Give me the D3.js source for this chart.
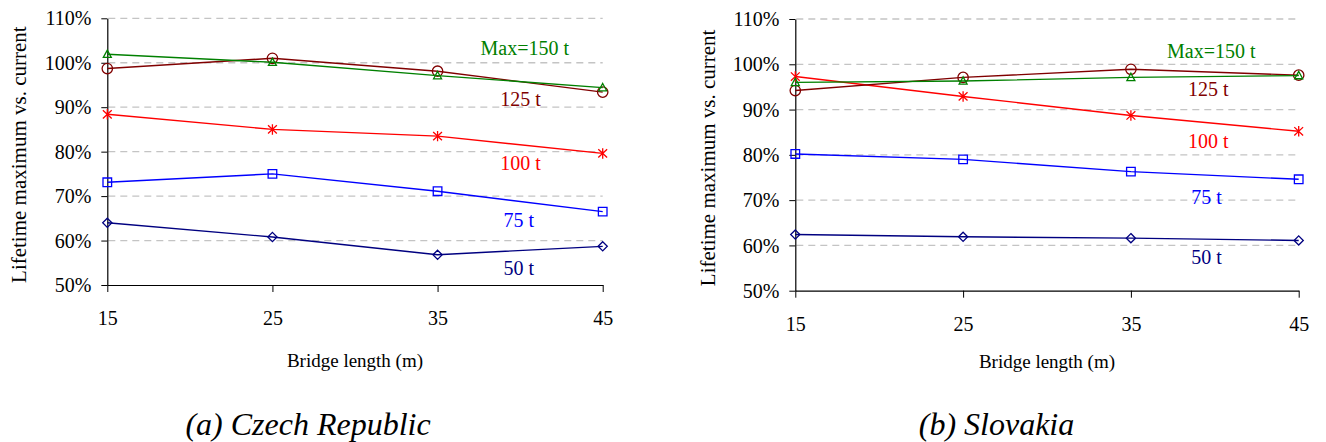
<!DOCTYPE html>
<html>
<head>
<meta charset="utf-8">
<script src="https://cdn.jsdelivr.net/npm/d3@7"></script>
<style>
  html, body { margin: 0; padding: 0; background: #fff; }
  svg { display: block; }
</style>
</head>
<body>
<svg id="chart" width="1326" height="442" font-family="Liberation Serif"></svg>
<script>
// Bridge lengths (m) on the x axis
const lengths = [15, 25, 35, 45];
const yTicks = [50, 60, 70, 80, 90, 100, 110];

// Series names (gross vehicle weight limits)
const seriesNames = ["50 t", "75 t", "100 t", "125 t", "Max=150 t"];

// Czech Republic: lifetime maximum vs. current (%)
const czech50  = [64.0, 60.8, 56.8, 58.7];
const czech75  = [73.1, 75.0, 71.1, 66.5];
const czech100 = [88.4, 85.0, 83.5, 79.6];
const czech125 = [98.7, 101.0, 98.1, 93.4];
const czech150 = [101.9, 100.1, 97.1, 94.4];

// Slovakia: lifetime maximum vs. current (%)
const slovak50  = [62.4, 61.9, 61.6, 61.1];
const slovak75  = [80.2, 79.0, 76.3, 74.6];
const slovak100 = [97.3, 92.9, 88.7, 85.2];
const slovak125 = [94.2, 97.1, 98.9, 97.6];
const slovak150 = [96.0, 96.3, 97.1, 97.5];

const seriesColors = ["#000080", "#0000ff", "#ff0000", "#800000", "#008000"];
const FONT = "Liberation Serif";

// Marker shapes as d3 symbol types (size = half-extent in px)
const symDiamond = { draw(c, s) { c.moveTo(0, -s); c.lineTo(s, 0); c.lineTo(0, s); c.lineTo(-s, 0); c.closePath(); } };
const symSquare = { draw(c, s) { c.rect(-s, -s, 2 * s, 2 * s); } };
const symStar = { draw(c, s) {
  c.moveTo(0, -s); c.lineTo(0, s);
  const a = s * 0.85, b = s * 0.8;
  c.moveTo(-a, -b); c.lineTo(a, b);
  c.moveTo(-a, b); c.lineTo(a, -b);
} };
const symCircle = { draw(c, s) { c.moveTo(s, 0); c.arc(0, 0, s, 0, 2 * Math.PI); } };
const symTriangle = { draw(c, s) { c.moveTo(0, -s); c.lineTo(s * 0.95, s * 0.75); c.lineTo(-s * 0.95, s * 0.75); c.closePath(); } };
const seriesSymbols = [symDiamond, symSquare, symStar, symCircle, symTriangle];
const symbolSizes = [4.6, 4.3, 5.2, 5.2, 4.2];

const svg = d3.select("#chart");

function drawPanel(cfg) {
  const x = d3.scaleLinear().domain([15, 45]).range([cfg.left, cfg.right]);
  const y = d3.scaleLinear().domain([50, 110]).range([cfg.bottom, cfg.top]);
  const g = svg.append("g").attr("font-family", FONT);

  // dashed horizontal gridlines
  g.append("g").selectAll("line")
    .data(yTicks.filter(d => d > 50))
    .join("line")
    .attr("x1", cfg.left + 1).attr("x2", cfg.right)
    .attr("y1", d => y(d)).attr("y2", d => y(d))
    .attr("stroke", "#c4c4c4").attr("stroke-width", 1.3)
    .attr("stroke-dasharray", "7,5");

  // y axis
  const ya = g.append("g").attr("transform", `translate(${cfg.left},0)`)
    .call(d3.axisLeft(y).tickValues(yTicks).tickFormat(d => d + "%").tickSize(6).tickSizeOuter(0).tickPadding(10));
  // x axis
  const xa = g.append("g").attr("transform", `translate(0,${cfg.bottom})`)
    .call(d3.axisBottom(x).tickValues(lengths).tickSize(7).tickSizeOuter(0));

  [ya, xa].forEach(a => {
    a.attr("font-family", FONT);
    a.select(".domain").attr("stroke", "#000").attr("stroke-width", 1.2);
    a.selectAll(".tick line").attr("stroke", "#000").attr("stroke-width", 1);
    a.selectAll("text").attr("font-family", FONT).attr("font-size", 20).attr("fill", "#000");
  });
  ya.selectAll("text").attr("dy", "0.33em");
  xa.selectAll("text").attr("y", 40).attr("dy", 0);

  // axis titles
  g.append("text")
    .attr("transform", `translate(${cfg.yTitleX},${(cfg.top + cfg.bottom) / 2 + 3}) rotate(-90)`)
    .attr("text-anchor", "middle").attr("font-family", FONT).attr("font-size", 21).attr("fill", "#000")
    .text("Lifetime maximum vs. current");
  g.append("text")
    .attr("x", (cfg.left + cfg.right) / 2).attr("y", cfg.xTitleY)
    .attr("text-anchor", "middle").attr("font-family", FONT).attr("font-size", 19).attr("fill", "#000")
    .text("Bridge length (m)");

  // series lines and markers
  const line = d3.line().x((d, i) => x(lengths[i])).y(d => y(d));
  cfg.series.forEach((vals, k) => {
    g.append("path").datum(vals)
      .attr("d", line).attr("fill", "none")
      .attr("stroke", seriesColors[k]).attr("stroke-width", 1.4);
    g.append("g").selectAll("path")
      .data(vals)
      .join("path")
      .attr("transform", (d, i) => `translate(${x(lengths[i])},${y(d)})`)
      .attr("d", d3.symbol(seriesSymbols[k], symbolSizes[k]))
      .attr("fill", "none").attr("stroke", seriesColors[k]).attr("stroke-width", 1.3);
  });

  // series name labels
  cfg.labelPos.forEach((p, k) => {
    g.append("text")
      .attr("x", x(p[0])).attr("y", y(p[1]))
      .attr("font-family", FONT).attr("font-size", 20).attr("fill", seriesColors[k])
      .text(seriesNames[k]);
  });

  // panel caption
  svg.append("text")
    .attr("x", cfg.captionX).attr("y", 435)
    .attr("text-anchor", "middle").attr("font-family", FONT)
    .attr("font-size", 32).attr("font-style", "italic").attr("fill", "#000")
    .text(cfg.caption);
}

drawPanel({
  left: 107.3, right: 602.7, top: 18.3, bottom: 285,
  yTitleX: 26, xTitleY: 367,
  series: [czech50, czech75, czech100, czech125, czech150],
  // label anchors in data units: [length, percent]
  labelPos: [[39.0, 52.3], [39.0, 63.1], [38.8, 75.9], [38.8, 90.3], [37.6, 101.7]],
  caption: "(a) Czech Republic", captionX: 308
});

drawPanel({
  left: 795.3, right: 1298.7, top: 19, bottom: 290.7,
  yTitleX: 715, xTitleY: 368,
  series: [slovak50, slovak75, slovak100, slovak125, slovak150],
  labelPos: [[38.6, 55.8], [38.6, 69.1], [38.4, 81.5], [38.4, 93.0], [37.15, 101.3]],
  caption: "(b) Slovakia", captionX: 996.5
});
</script>
</body>
</html>
